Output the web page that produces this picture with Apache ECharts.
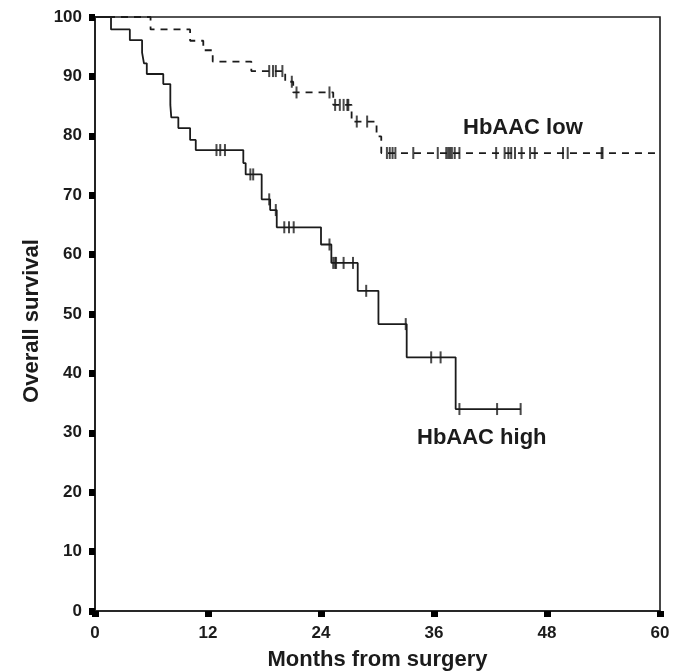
<!DOCTYPE html>
<html>
<head>
<meta charset="utf-8">
<script src="https://cdn.jsdelivr.net/npm/echarts@6/dist/echarts.min.js"></script>
<style>
	html, body {margin: 0; padding: 0; background: #fff;}
	#chart {width: 682px; height: 672px;}
</style>
</head>
<body>
<div id="chart"></div>
<script>
	// HbAAC high (solid): step times (months) and survival (%)
	var highTimes = [0, 1.7, 3.7, 5.0, 5.2, 5.5, 7.25, 8.0, 8.1, 8.85, 10.1, 10.7, 15.75, 16.0, 17.7, 18.6, 19.3, 24.0, 25.1, 27.9, 30.1, 33.1, 38.3, 45.2];
	var highSurv = [100, 97.9, 96.1, 94.0, 92.2, 90.4, 88.7, 85.2, 83.1, 81.3, 79.3, 77.6, 75.4, 73.5, 69.3, 67.5, 64.6, 61.7, 58.6, 53.9, 48.3, 42.7, 34.0, 34.0];
	var highCensored = [12.9, 13.3, 13.8, 16.5, 16.8, 18.5, 19.2, 20.1, 20.6, 21.1, 24.9, 25.3, 25.5, 25.6, 26.4, 27.4, 28.8, 33.0, 35.7, 36.7, 38.7, 42.7, 45.2];

	// HbAAC low (dashed)
	var lowTimes = [0, 5.9, 10.1, 11.5, 12.5, 16.6, 20.2, 21.05, 25.3, 27.25, 29.9, 30.4, 60];
	var lowSurv = [100, 97.9, 96.0, 94.4, 92.5, 90.9, 89.1, 87.3, 85.2, 82.4, 79.9, 77.1, 77.1];
	var lowCensored = [18.5, 18.9, 19.2, 19.9, 20.9, 21.4, 24.9, 25.5, 26.0, 26.4, 26.8, 26.9, 27.8, 28.9,
		31.0, 31.3, 31.6, 31.9, 33.8, 36.4, 37.3, 37.5, 37.7, 37.9, 38.2, 38.7,
		42.6, 43.5, 43.9, 44.2, 44.6, 45.3, 46.2, 46.7, 49.7, 50.2, 53.8, 53.9];

	var xTicks = [0, 12, 24, 36, 48, 60];
	var yTicks = [0, 10, 20, 30, 40, 50, 60, 70, 80, 90, 100];

	var ink = '#1b1b1b';
	var font = 'Liberation Sans, Arial, sans-serif';

	function survAt(times, surv, t) {
		var v = surv[0];
		for (var i = 0; i < times.length; i++) {
			if (times[i] <= t) v = surv[i];
		}
		return v;
	}

	function pairs(times, surv) {
		return times.map(function (t, i) { return [t, surv[i]]; });
	}

	function censorPoints(list, times, surv) {
		return list.map(function (t) { return [t, survAt(times, surv, t)]; });
	}

	var chart = echarts.init(document.getElementById('chart'));
	chart.setOption({
		animation: false,
		grid: {
			left: 95,
			right: 22,
			top: 17,
			bottom: 61,
			containLabel: false,
			outerBoundsMode: 'none',
			show: true,
			borderColor: ink,
			borderWidth: 1.6,
			backgroundColor: 'transparent'
		},
		xAxis: {
			type: 'value',
			min: 0,
			max: 60,
			interval: 12,
			name: 'Months from surgery',
			nameLocation: 'middle',
			nameGap: 38,
			nameTextStyle: {fontFamily: font, fontWeight: 'bold', fontSize: 22, color: ink},
			axisLine: {lineStyle: {color: ink, width: 1.6}},
			axisTick: {show: true, inside: false, length: 6, lineStyle: {color: '#000', width: 7}},
			axisLabel: {
				margin: 14,
				fontFamily: font, fontWeight: 'bold', fontSize: 17, color: ink,
				formatter: function (v) { return xTicks.indexOf(v) >= 0 ? String(v) : ''; }
			},
			splitLine: {show: false}
		},
		yAxis: {
			type: 'value',
			min: 0,
			max: 100,
			interval: 10,
			name: 'Overall survival',
			nameLocation: 'middle',
			nameGap: 52,
			nameTextStyle: {fontFamily: font, fontWeight: 'bold', fontSize: 22, color: ink, padding: [0, 14, 0, 0]},
			axisLine: {lineStyle: {color: ink, width: 1.6}},
			axisTick: {show: true, inside: false, length: 6, lineStyle: {color: '#000', width: 7}},
			axisLabel: {
				margin: 13,
				fontFamily: font, fontWeight: 'bold', fontSize: 17, color: ink,
				formatter: function (v) { return yTicks.indexOf(v) >= 0 ? String(v) : ''; }
			},
			splitLine: {show: false}
		},
		graphic: [
			{
				type: 'text', left: 463, top: 117,
				style: {text: 'HbAAC low', fontFamily: font, fontWeight: 'bold', fontSize: 22, fill: ink}
			},
			{
				type: 'text', left: 417, top: 427,
				style: {text: 'HbAAC high', fontFamily: font, fontWeight: 'bold', fontSize: 22, fill: ink}
			}
		],
		series: [
			{
				name: 'HbAAC high',
				type: 'line',
				step: 'end',
				symbol: 'none',
				lineStyle: {color: ink, width: 1.8, type: 'solid'},
				data: pairs(highTimes, highSurv),
				z: 3
			},
			{
				name: 'HbAAC low',
				type: 'line',
				step: 'end',
				symbol: 'none',
				lineStyle: {color: ink, width: 1.8, type: [7, 6]},
				data: pairs(lowTimes, lowSurv),
				z: 3
			},
			{
				name: 'high censored',
				type: 'scatter',
				symbol: 'rect',
				symbolSize: [2, 12],
				itemStyle: {color: ink},
				data: censorPoints(highCensored, highTimes, highSurv),
				z: 4
			},
			{
				name: 'low censored',
				type: 'scatter',
				symbol: 'rect',
				symbolSize: [2, 12],
				itemStyle: {color: ink},
				data: censorPoints(lowCensored, lowTimes, lowSurv),
				z: 4
			}
		]
	});
</script>
</body>
</html>
